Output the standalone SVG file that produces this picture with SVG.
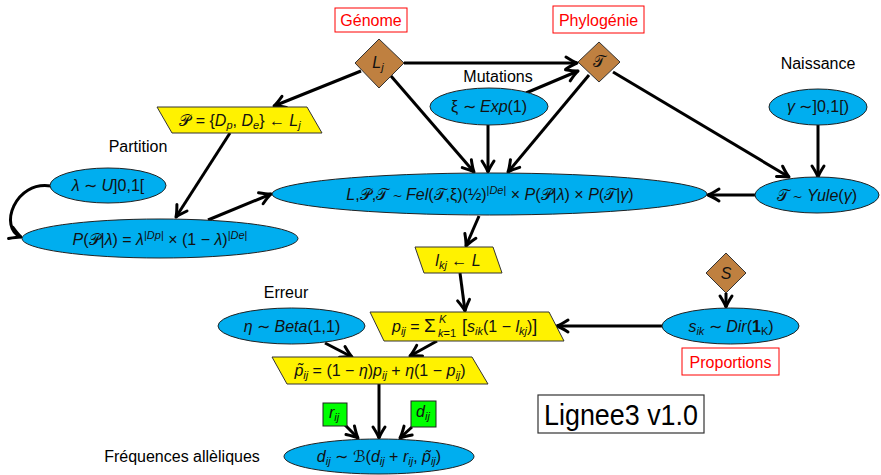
<svg xmlns="http://www.w3.org/2000/svg" width="881" height="475" viewBox="0 0 881 475">
<style>
.lbl{font-family:"Liberation Sans",Arial,sans-serif;font-size:16px;fill:#000;text-anchor:middle}
.red{font-family:"Liberation Sans",Arial,sans-serif;font-size:16px;fill:#f00;text-anchor:middle}
.rbox{fill:#fff;stroke:#f00;stroke-width:1}
.ell{fill:#00AEEF;stroke:#222;stroke-width:1}
.par{fill:#FFF200;stroke:#333;stroke-width:1}
.dia{fill:#BF8040;stroke:#333;stroke-width:1}
.grn{fill:#00FF00;stroke:#222;stroke-width:1}
.m{font-family:"Liberation Sans",Arial,sans-serif;font-size:16px;fill:#111;text-anchor:middle}
.ms{font-family:"Liberation Sans",Arial,sans-serif;font-size:16px;fill:#111;text-anchor:start}
.i{font-style:italic}
.s{font-size:11px}
.edge{stroke:#000;stroke-width:3;fill:none;marker-end:url(#arr)}
</style>
<defs>
<marker id="arr" markerUnits="userSpaceOnUse" markerWidth="20" markerHeight="20" refX="0" refY="0" orient="auto" overflow="visible">
<path d="M-11,-6 Q-4,-1.5 0,0 Q-4,1.5 -11,6" fill="none" stroke="#000" stroke-width="3" stroke-linecap="round" stroke-linejoin="round"/>
</marker>
</defs>
<rect width="881" height="475" fill="#fff"/>

<g id="connectors">
<path class="edge" d="M404,63 L577,63"/>
<path class="edge" d="M526,93 L578,71"/>
<path class="edge" d="M361,71 L274,106"/>
<path class="edge" d="M391,76 L474,172"/>
<path class="edge" d="M488,125 L488,172"/>
<path class="edge" d="M589,75 L508,172"/>
<path class="edge" d="M613,72 L789,177"/>
<path class="edge" d="M818,125 L818,177"/>
<path class="edge" d="M755,195 L708,195"/>
<path class="edge" d="M230,133 L176,217"/>
<path class="edge" d="M208,220 L271,194"/>
<path class="edge" d="M51,186 C15,180 -2,228 21,237"/>
<path class="edge" d="M479,216 L466,246"/>
<path class="edge" d="M460,273 L465,311"/>
<path class="edge" d="M662,326 L557,326"/>
<path class="edge" d="M726,293 L726,307"/>
<path class="edge" d="M325,343 L352,357"/>
<path class="edge" d="M437,341 L410,356"/>
<path class="edge" d="M379,384 L379,438"/>
<path class="edge" d="M345,425 L358,438"/>
<path class="edge" d="M412,427 L400,438"/>
</g>

<g id="genome-label"><rect class="rbox" x="335" y="8" width="72" height="24"/><text class="red" x="371" y="26">Génome</text></g>
<g id="phylogenie-label"><rect class="rbox" x="553" y="6" width="91" height="27"/><text class="red" x="598.5" y="25.5">Phylogénie</text></g>
<g id="proportions-label"><rect class="rbox" x="682" y="348" width="97" height="27"/><text class="red" x="730.5" y="367.5">Proportions</text></g>
<g id="title"><rect x="538" y="395" width="166" height="38" fill="#fff" stroke="#333" stroke-width="1.2"/><text x="621" y="425" font-family="Liberation Sans, Arial, sans-serif" font-size="30" text-anchor="middle" textLength="154" lengthAdjust="spacingAndGlyphs">Lignee3 v1.0</text></g>

<g id="lbl-mutations"><text class="lbl" x="498" y="82">Mutations</text></g>
<g id="lbl-naissance"><text class="lbl" x="818" y="69">Naissance</text></g>
<g id="lbl-partition"><text class="lbl" x="138" y="152">Partition</text></g>
<g id="lbl-erreur"><text class="lbl" x="286" y="298">Erreur</text></g>
<g id="lbl-freq"><text class="lbl" x="182" y="462">Fréquences allèliques</text></g>

<g id="Lj"><polygon class="dia" points="379,39 404,63 379,88 355,63"/><text class="m" x="378" y="68"><tspan class="i">L</tspan><tspan class="s i" dy="3">j</tspan></text></g>
<g id="T"><polygon class="dia" points="599,42 620,62 599,82 578,62"/><text class="m" x="599" y="67">𝒯</text></g>
<g id="S"><polygon class="dia" points="726,253 746,273 726,293 706,273"/><text class="m i" x="726" y="279">S</text></g>

<g id="xi"><ellipse class="ell" cx="489" cy="106.5" rx="59" ry="18.5"/><text class="m" x="489" y="112">ξ ∼ <tspan class="i">Exp</tspan>(1)</text></g>
<g id="gamma"><ellipse class="ell" cx="818" cy="107" rx="49" ry="18"/><text class="m" x="818" y="112"><tspan class="i">γ</tspan> ∼]0,1[)</text></g>
<g id="yule"><ellipse class="ell" cx="817" cy="195" rx="62" ry="18"/><text class="m" x="817" y="200.5">𝒯 ∼ <tspan class="i">Yule</tspan>(<tspan class="i">γ</tspan>)</text></g>
<g id="lambda"><ellipse class="ell" cx="108" cy="185.5" rx="58" ry="17.5"/><text class="m" x="108" y="191"><tspan class="i">λ</tspan> ∼ <tspan class="i">U</tspan>]0,1[</text></g>
<g id="ppl"><ellipse class="ell" cx="160" cy="238.5" rx="138" ry="19.5"/><text class="m" x="160" y="245"><tspan class="i">P</tspan>(𝒫|<tspan class="i">λ</tspan>) = <tspan class="i">λ</tspan><tspan class="s" dy="-6">|<tspan class="i">D</tspan><tspan class="i">p</tspan>|</tspan><tspan dy="6"> × (1 − </tspan><tspan class="i">λ</tspan>)<tspan class="s" dy="-6">|<tspan class="i">De</tspan>|</tspan></text></g>
<g id="fel"><ellipse class="ell" cx="489.5" cy="194" rx="217.5" ry="21"/><text class="m" x="490" y="200"><tspan class="i">L</tspan>,𝒫,𝒯 ∼ <tspan class="i">Fel</tspan>(𝒯,ξ)(½)<tspan class="s" dy="-6">|<tspan class="i">De</tspan>|</tspan><tspan dy="6"> × </tspan><tspan class="i">P</tspan>(𝒫|<tspan class="i">λ</tspan>) × <tspan class="i">P</tspan>(𝒯|<tspan class="i">γ</tspan>)</text></g>
<g id="eta"><ellipse class="ell" cx="291.5" cy="326" rx="73.5" ry="18"/><text class="m" x="292" y="332"><tspan class="i">η</tspan> ∼ <tspan class="i">Beta</tspan>(1,1)</text></g>
<g id="sik"><ellipse class="ell" cx="730.5" cy="326" rx="68.5" ry="18"/><text class="m" x="731" y="332"><tspan class="i">s</tspan><tspan class="s i" dy="3">ik</tspan><tspan dy="-3"> ∼ </tspan><tspan class="i">Dir</tspan>(<tspan font-weight="bold">1</tspan><tspan class="s" dy="3">K</tspan><tspan dy="-3">)</tspan></text></g>
<g id="dij"><ellipse class="ell" cx="379" cy="456.5" rx="95" ry="17.5"/><text class="m" x="379" y="462"><tspan class="i">d</tspan><tspan class="s i" dy="3">ij</tspan><tspan dy="-3"> ∼ ℬ(</tspan><tspan class="i">d</tspan><tspan class="s i" dy="3">ij</tspan><tspan dy="-3"> + </tspan><tspan class="i">r</tspan><tspan class="s i" dy="3">ij</tspan><tspan dy="-3">, </tspan><tspan class="i">p̃</tspan><tspan class="s i" dy="3">ij</tspan><tspan dy="-3">)</tspan></text></g>

<g id="partition"><polygon class="par" points="157,107 307,107 322,133 172,133"/><text class="m" x="240" y="125.5">𝒫 = {<tspan class="i">D</tspan><tspan class="s i" dy="3">p</tspan><tspan dy="-3">, </tspan><tspan class="i">D</tspan><tspan class="s i" dy="3">e</tspan><tspan dy="-3">} ← </tspan><tspan class="i">L</tspan><tspan class="s i" dy="3">j</tspan></text></g>
<g id="lkj"><polygon class="par" points="415,247 493,247 502,273 424,273"/><text class="m" x="458" y="265.5"><tspan class="i">l</tspan><tspan class="s i" dy="3">kj</tspan><tspan dy="-3"> ← </tspan><tspan class="i">L</tspan></text></g>
<g id="pij"><polygon class="par" points="370,312 549,312 564,341 384,341"/>
<text class="ms" x="392" y="332"><tspan class="i">p</tspan><tspan class="s i" dy="3">ij</tspan><tspan dy="-3"> = </tspan><tspan font-size="19">Σ</tspan></text>
<text class="ms s i" x="439" y="323">K</text>
<text class="ms s" x="438" y="337"><tspan class="i">k</tspan>=1</text>
<text class="ms" x="462" y="332"><tspan font-size="18">[</tspan><tspan class="i">s</tspan><tspan class="s i" dy="3">ik</tspan><tspan dy="-3">(1 − </tspan><tspan class="i">l</tspan><tspan class="s i" dy="3">kj</tspan><tspan dy="-3">)</tspan><tspan font-size="18">]</tspan></text></g>
<g id="ptilde"><polygon class="par" points="272,357 472,357 488,384 287,384"/><text class="m" x="380" y="375.5"><tspan class="i">p̃</tspan><tspan class="s i" dy="3">ij</tspan><tspan dy="-3"> = (1 − </tspan><tspan class="i">η</tspan>)<tspan class="i">p</tspan><tspan class="s i" dy="3">ij</tspan><tspan dy="-3"> + </tspan><tspan class="i">η</tspan>(1 − <tspan class="i">p</tspan><tspan class="s i" dy="3">ij</tspan><tspan dy="-3">)</tspan></text></g>

<g id="rij"><rect class="grn" x="323" y="403" width="24" height="23"/><text class="m" x="334" y="418"><tspan class="i">r</tspan><tspan class="s i" dy="3">ij</tspan></text></g>
<g id="dijbox"><rect class="grn" x="411" y="401" width="25" height="26"/><text class="m" x="423" y="417"><tspan class="i">d</tspan><tspan class="s i" dy="3">ij</tspan></text></g>
</svg>
